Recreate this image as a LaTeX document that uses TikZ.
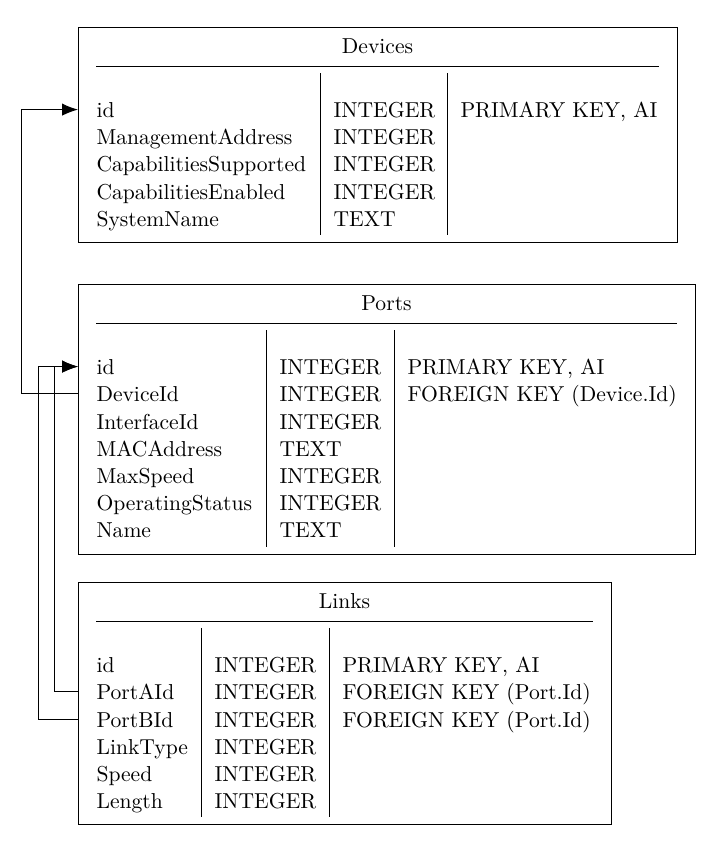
\documentclass[tikz,border=0pt]{standalone}
\usetikzlibrary{arrows.meta}
\begin{document}
\begin{tikzpicture}[x=0.5pt,y=-0.5pt,line width=0.5pt,
  every node/.style={font=\fontsize{10.8}{13.6}\selectfont},
  box/.style={draw,anchor=north west,inner sep=0pt},
  cell/.style={anchor=base west,inner sep=0pt,text height=8pt,text depth=0pt},
  ttl/.style={anchor=base,inner sep=0pt},
  fk/.style={-{Latex[length=8pt,width=6.2pt]}}]
\useasboundingbox (0,0) rectangle (720,844);

% ---------------- Devices ----------------
\node[box,minimum width=299.5pt,minimum height=107.2pt] (devices) at (78,27.3) {};
\node[ttl] (devtitle) at (377.5,53.3) {Devices};
\draw (96,66.3) -- (659,66.3);
\draw (320,73.3) -- (320,235);
\draw (447,73.3) -- (447,235);
\node[cell] (d1) at (96,117.6) {id};
\node[cell] (d2) at (96,144.8) {ManagementAddress};
\node[cell] (d3) at (96,172.0) {CapabilitiesSupported};
\node[cell] (d4) at (96,199.2) {CapabilitiesEnabled};
\node[cell] (d5) at (96,226.4) {SystemName};
\node[cell] (d1t) at (333,117.6) {INTEGER};
\node[cell] (d2t) at (333,144.8) {INTEGER};
\node[cell] (d3t) at (333,172.0) {INTEGER};
\node[cell] (d4t) at (333,199.2) {INTEGER};
\node[cell] (d5t) at (333,226.4) {TEXT};
\node[cell] (d1c) at (460,117.6) {PRIMARY KEY, AI};

% ---------------- Ports ----------------
\node[box,minimum width=308.5pt,minimum height=134.85pt] (ports) at (78,284.3) {};
\node[ttl] (porttitle) at (386.5,310.6) {Ports};
\draw (96,323.3) -- (677,323.3);
\draw (266,330.3) -- (266,546.7);
\draw (394,330.3) -- (394,546.7);
\node[cell] (p1) at (96,374.6) {id};
\node[cell] (p2) at (96,401.8) {DeviceId};
\node[cell] (p3) at (96,429.0) {InterfaceId};
\node[cell] (p4) at (96,456.2) {MACAddress};
\node[cell] (p5) at (96,483.4) {MaxSpeed};
\node[cell] (p6) at (96,510.6) {OperatingStatus};
\node[cell] (p7) at (96,537.8) {Name};
\node[cell] (p1t) at (279,374.6) {INTEGER};
\node[cell] (p2t) at (279,401.8) {INTEGER};
\node[cell] (p3t) at (279,429.0) {INTEGER};
\node[cell] (p4t) at (279,456.2) {TEXT};
\node[cell] (p5t) at (279,483.4) {INTEGER};
\node[cell] (p6t) at (279,510.6) {INTEGER};
\node[cell] (p7t) at (279,537.8) {TEXT};
\node[cell] (p1c) at (407,374.6) {PRIMARY KEY, AI};
\node[cell] (p2c) at (407,401.8) {FOREIGN KEY (Device.Id)};

% ---------------- Links ----------------
\node[box,minimum width=266.5pt,minimum height=121pt] (links) at (78,582.3) {};
\node[ttl] (linktitle) at (344.5,608.3) {Links};
\draw (96,621.3) -- (593,621.3);
\draw (201,627.8) -- (201,817.3);
\draw (329,627.8) -- (329,817.3);
\node[cell] (l1) at (96,672.6) {id};
\node[cell] (l2) at (96,699.8) {PortAId};
\node[cell] (l3) at (96,727.0) {PortBId};
\node[cell] (l4) at (96,754.2) {LinkType};
\node[cell] (l5) at (96,781.4) {Speed};
\node[cell] (l6) at (96,808.6) {Length};
\node[cell] (l1t) at (214,672.6) {INTEGER};
\node[cell] (l2t) at (214,699.8) {INTEGER};
\node[cell] (l3t) at (214,727.0) {INTEGER};
\node[cell] (l4t) at (214,754.2) {INTEGER};
\node[cell] (l5t) at (214,781.4) {INTEGER};
\node[cell] (l6t) at (214,808.6) {INTEGER};
\node[cell] (l1c) at (342,672.6) {PRIMARY KEY, AI};
\node[cell] (l2c) at (342,699.8) {FOREIGN KEY (Port.Id)};
\node[cell] (l3c) at (342,727.0) {FOREIGN KEY (Port.Id)};

% ---------------- connectors ----------------
\coordinate (laneD) at (21,0);
\coordinate (laneA) at (54,0);
\coordinate (laneB) at (38,0);
\draw[fk] (ports.west |- p2.west) -- (laneD |- p2.west) -- (laneD |- d1.west) -- (devices.west |- d1.west);
\draw[fk] (links.west |- l2.west) -- (laneA |- l2.west) -- (laneA |- p1.west) -- (ports.west |- p1.west);
\draw[fk] (links.west |- l3.west) -- (laneB |- l3.west) -- (laneB |- p1.west) -- (ports.west |- p1.west);
\end{tikzpicture}
\end{document}
